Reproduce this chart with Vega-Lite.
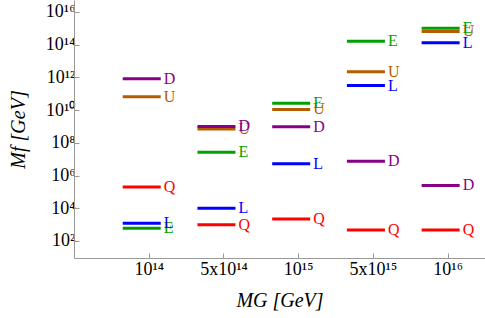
{
  "$schema": "https://vega.github.io/schema/vega-lite/v6.json",
  "width": 411,
  "height": 258,
  "autosize": "none",
  "padding": {"left": 74, "top": 0, "right": 0, "bottom": 60},
  "background": "white",
  "config": {
    "view": {"stroke": null},
    "axis": {
      "domainColor": "#999999",
      "tickColor": "#999999",
      "grid": false,
      "labelFont": "Liberation Serif",
      "labelFontSize": 18,
      "labelColor": "black",
      "titleFont": "Liberation Serif",
      "titleFontSize": 20,
      "titleFontStyle": "italic",
      "titleFontWeight": "normal",
      "titleColor": "black"
    }
  },
  "data": {
    "values": [
      {"mg": 1, "f": "U", "val": 6.6e10},
      {"mg": 1, "f": "D", "val": 8.3e11},
      {"mg": 1, "f": "E", "val": 6.0e2},
      {"mg": 1, "f": "L", "val": 1.2e3},
      {"mg": 1, "f": "Q", "val": 2.0e5},
      {"mg": 2, "f": "U", "val": 7.0e8},
      {"mg": 2, "f": "D", "val": 1.0e9},
      {"mg": 2, "f": "E", "val": 2.7e7},
      {"mg": 2, "f": "L", "val": 1.0e4},
      {"mg": 2, "f": "Q", "val": 9.8e2},
      {"mg": 3, "f": "U", "val": 1.1e10},
      {"mg": 3, "f": "D", "val": 9.5e8},
      {"mg": 3, "f": "E", "val": 2.6e10},
      {"mg": 3, "f": "L", "val": 5.2e6},
      {"mg": 3, "f": "Q", "val": 2.2e3},
      {"mg": 4, "f": "U", "val": 2.2e12},
      {"mg": 4, "f": "D", "val": 7.6e6},
      {"mg": 4, "f": "E", "val": 1.6e14},
      {"mg": 4, "f": "L", "val": 3.2e11},
      {"mg": 4, "f": "Q", "val": 4.7e2},
      {"mg": 5, "f": "U", "val": 6.5e14},
      {"mg": 5, "f": "D", "val": 2.5e5},
      {"mg": 5, "f": "E", "val": 1.0e15},
      {"mg": 5, "f": "L", "val": 1.3e14},
      {"mg": 5, "f": "Q", "val": 4.7e2}
    ]
  },
  "encoding": {
    "x": {
      "field": "mg",
      "type": "quantitative",
      "scale": {"domain": [0, 5.5], "nice": false, "zero": false},
      "axis": {
        "title": "MG  [GeV]",
        "values": [1, 2, 3, 4, 5],
        "labelExpr": "['', '10¹⁴', '5x10¹⁴', '10¹⁵', '5x10¹⁵', '10¹⁶'][datum.value]",
        "tickSize": -5,
        "labelPadding": 7,
        "titlePadding": 12
      }
    },
    "y": {
      "field": "val",
      "type": "quantitative",
      "scale": {"type": "log", "domain": [9.1, 5.4e16], "nice": false},
      "axis": {
        "title": "Mf  [GeV]",
        "values": [1e2, 1e4, 1e6, 1e8, 1e10, 1e12, 1e14, 1e16],
        "labelExpr": "'10' + (datum.value >= 1e10 ? '¹' + ['⁰','¹','²','³','⁴','⁵','⁶','⁷','⁸','⁹'][round(log(datum.value)/LN10) - 10] : ['⁰','¹','²','³','⁴','⁵','⁶','⁷','⁸','⁹'][round(log(datum.value)/LN10)])",
        "tickSize": -5,
        "labelPadding": 4,
        "titlePadding": 17
      }
    },
    "color": {
      "field": "f",
      "type": "nominal",
      "scale": {"domain": ["D", "U", "E", "L", "Q"], "range": ["#880088", "#B35C00", "#00A000", "#0000FF", "#FF0000"]},
      "legend": null
    }
  },
  "layer": [
    {
      "mark": {"type": "rule", "strokeWidth": 3, "xOffset": -26, "x2Offset": 12},
      "encoding": {"x2": {"field": "mg"}}
    },
    {
      "mark": {"type": "text", "align": "left", "baseline": "middle", "dx": 15, "font": "Liberation Serif", "fontSize": 16},
      "encoding": {"text": {"field": "f"}}
    }
  ]
}
